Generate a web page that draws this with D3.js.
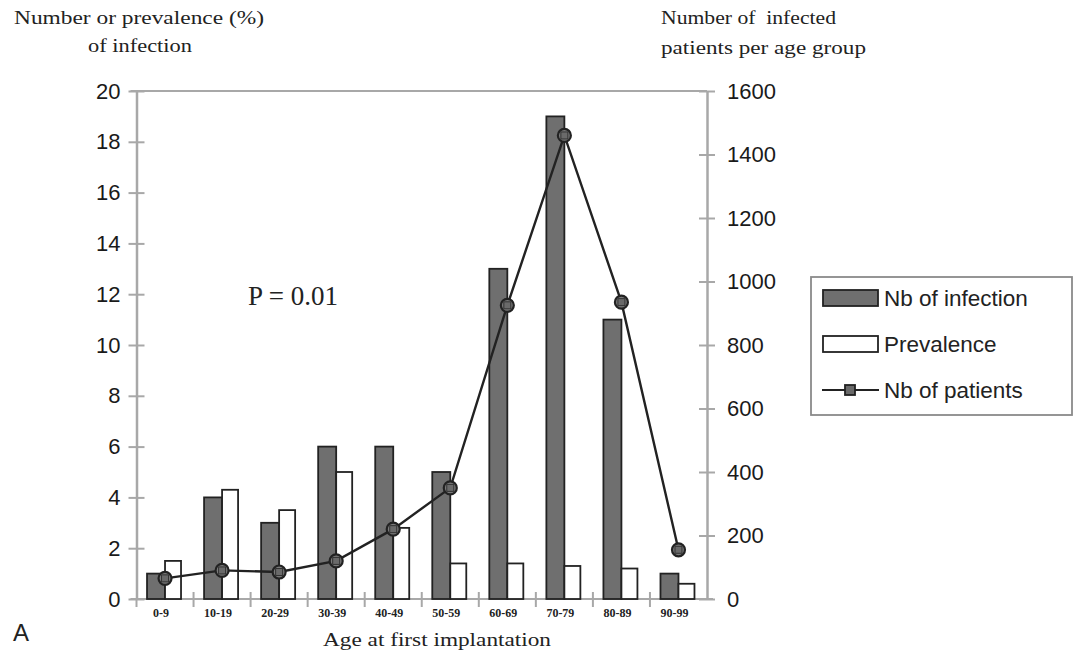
<!DOCTYPE html>
<html><head><meta charset="utf-8">
<script src="https://cdn.jsdelivr.net/npm/d3@7"></script>
<style>body{margin:0;background:#fff}svg{display:block}</style>
</head><body><svg id="c" width="1076" height="655"></svg>
<script>
const categories = ["0-9","10-19","20-29","30-39","40-49","50-59","60-69","70-79","80-89","90-99"];
const nbInfection = [1,4,3,6,6,5,13,19,11,1];
const prevalence = [1.5,4.3,3.5,5.0,2.8,1.4,1.4,1.3,1.2,0.6];
const nbPatients = [65,90,85,120,220,350,925,1460,935,155];
const leftTicks = [0,2,4,6,8,10,12,14,16,18,20];
const rightTicks = [0,200,400,600,800,1000,1200,1400,1600];
const legendLabels = ["Nb of infection","Prevalence","Nb of patients"];

const svg = d3.select("#c");
const L = 136.5, R = 707, T = 91, B = 599;
const x = d3.scaleBand().domain(categories).range([L, R]).paddingInner(0).paddingOuter(0);
const yL = d3.scaleLinear().domain([0,20]).range([B, T]);
const yR = d3.scaleLinear().domain([0,1600]).range([B, T]);
const axisCol = "#a8a8a8";
const barW = 18;
const sans = "Liberation Sans, Arial, sans-serif";
const serif = "Liberation Serif, Times New Roman, serif";

// frame lines
svg.append("line").attr("x1", L-6).attr("x2", R+6).attr("y1", B).attr("y2", B).attr("stroke", axisCol).attr("stroke-width", 2);
svg.append("line").attr("x1", L-6).attr("x2", R).attr("y1", T).attr("y2", T).attr("stroke", axisCol).attr("stroke-width", 2);

// left axis
const gL = svg.append("g").attr("transform", `translate(${L},0)`)
  .call(d3.axisLeft(yL).tickValues(leftTicks).tickFormat(d3.format("d")).tickSize(0).tickPadding(16));
gL.select(".domain").attr("stroke", axisCol).attr("stroke-width", 2.5);
gL.selectAll(".tick text").attr("font-family", sans).attr("font-size", 22).attr("fill", "#1a1a1a");
gL.selectAll(".tick").append("line").attr("x1", -8).attr("x2", 8).attr("stroke", axisCol).attr("stroke-width", 2);

// right axis
const gR = svg.append("g").attr("transform", `translate(${R},0)`)
  .call(d3.axisRight(yR).tickValues(rightTicks).tickFormat(d3.format("d")).tickSize(0).tickPadding(20));
gR.select(".domain").attr("stroke", axisCol).attr("stroke-width", 2.5);
gR.selectAll(".tick text").attr("font-family", sans).attr("font-size", 22).attr("fill", "#1a1a1a");
gR.selectAll(".tick").append("line").attr("x1", -8).attr("x2", 8).attr("stroke", axisCol).attr("stroke-width", 2);

// x axis
const gX = svg.append("g").attr("transform", `translate(0,${B})`)
  .call(d3.axisBottom(x).tickSize(0).tickPadding(9));
gX.select(".domain").remove();
gX.selectAll(".tick text").attr("font-family", serif).attr("font-weight", "bold").attr("font-size", 12).attr("fill", "#222").attr("dx", -4);
svg.append("g").selectAll("line").data(categories.slice(1)).join("line")
  .attr("x1", d => x(d)).attr("x2", d => x(d)).attr("y1", B-7).attr("y2", B+8)
  .attr("stroke", axisCol).attr("stroke-width", 2);
svg.append("line").attr("x1", L).attr("x2", L).attr("y1", B).attr("y2", B+8).attr("stroke", axisCol).attr("stroke-width", 2);

// bars
const cx = d => x(d) + x.bandwidth()/2;
svg.append("g").selectAll("rect").data(categories).join("rect")
  .attr("x", d => cx(d) - barW).attr("width", barW)
  .attr("y", (d,i) => yL(nbInfection[i])).attr("height", (d,i) => B - yL(nbInfection[i]))
  .attr("fill", "#6f6f6f").attr("stroke", "#222").attr("stroke-width", 1.8);
svg.append("g").selectAll("rect").data(categories).join("rect")
  .attr("x", d => cx(d)).attr("width", barW - 2)
  .attr("y", (d,i) => yL(prevalence[i])).attr("height", (d,i) => B - yL(prevalence[i]))
  .attr("fill", "#fff").attr("stroke", "#222").attr("stroke-width", 1.8);

// line
const line = d3.line().x((d,i) => cx(categories[i])).y(d => yR(d));
svg.append("path").datum(nbPatients).attr("d", line).attr("fill", "none").attr("stroke", "#222").attr("stroke-width", 2.4);
const mk = svg.append("g").selectAll("g").data(nbPatients).join("g")
  .attr("transform", (d,i) => `translate(${cx(categories[i])},${yR(d)})`);
mk.append("circle").attr("r", 6.5).attr("fill", "#7a7a7a").attr("stroke", "#222").attr("stroke-width", 2.2);
mk.append("rect").attr("x", -3.5).attr("y", -3.5).attr("width", 7).attr("height", 7).attr("fill", "#6a6a6a").attr("stroke", "#333").attr("stroke-width", 1);

// P value
svg.append("text").attr("x", 248).attr("y", 305).text("P = 0.01")
  .attr("font-family", serif).attr("font-size", 27).attr("fill", "#222");

// titles
svg.append("text").attr("x", 139).attr("y", 24).attr("text-anchor", "middle").text("Number or prevalence (%)")
  .attr("font-family", serif).attr("font-size", 18).attr("fill", "#222").attr("textLength", 250).attr("lengthAdjust", "spacingAndGlyphs");
svg.append("text").attr("x", 140).attr("y", 52).attr("text-anchor", "middle").text("of infection")
  .attr("font-family", serif).attr("font-size", 18).attr("fill", "#222").attr("textLength", 104).attr("lengthAdjust", "spacingAndGlyphs");
svg.append("text").attr("x", 661).attr("y", 24).text("Number of  infected")
  .attr("font-family", serif).attr("font-size", 18).attr("fill", "#222").attr("textLength", 175).attr("lengthAdjust", "spacingAndGlyphs").attr("xml:space","preserve");
svg.append("text").attr("x", 661).attr("y", 54).text("patients per age group")
  .attr("font-family", serif).attr("font-size", 18).attr("fill", "#222").attr("textLength", 205).attr("lengthAdjust", "spacingAndGlyphs");
svg.append("text").attr("x", 437).attr("y", 646).attr("text-anchor", "middle").text("Age at first implantation")
  .attr("font-family", serif).attr("font-size", 18).attr("fill", "#222").attr("textLength", 228).attr("lengthAdjust", "spacingAndGlyphs");
svg.append("text").attr("x", 13).attr("y", 641).text("A")
  .attr("font-family", sans).attr("font-size", 24).attr("fill", "#222");

// legend
const lg = svg.append("g");
lg.append("rect").attr("x", 811).attr("y", 277).attr("width", 261).attr("height", 138)
  .attr("fill", "#fff").attr("stroke", "#8a8a8a").attr("stroke-width", 1.8);
const ly = [298, 344, 390];
lg.append("rect").attr("x", 823).attr("y", ly[0]-8).attr("width", 55).attr("height", 16).attr("fill", "#6f6f6f").attr("stroke", "#222").attr("stroke-width", 1.8);
lg.append("rect").attr("x", 823).attr("y", ly[1]-8).attr("width", 55).attr("height", 16).attr("fill", "#fff").attr("stroke", "#222").attr("stroke-width", 1.8);
lg.append("line").attr("x1", 822).attr("x2", 879).attr("y1", ly[2]).attr("y2", ly[2]).attr("stroke", "#222").attr("stroke-width", 2);
lg.append("rect").attr("x", 845).attr("y", ly[2]-5).attr("width", 10).attr("height", 10).attr("fill", "#6a6a6a").attr("stroke", "#222").attr("stroke-width", 1.8);
lg.selectAll("text.l").data(legendLabels).join("text").attr("class","l")
  .attr("x", 884).attr("y", (d,i) => ly[i] + 8).text(d => d)
  .attr("font-family", sans).attr("font-size", 22.5).attr("fill", "#222");
</script></body></html>
